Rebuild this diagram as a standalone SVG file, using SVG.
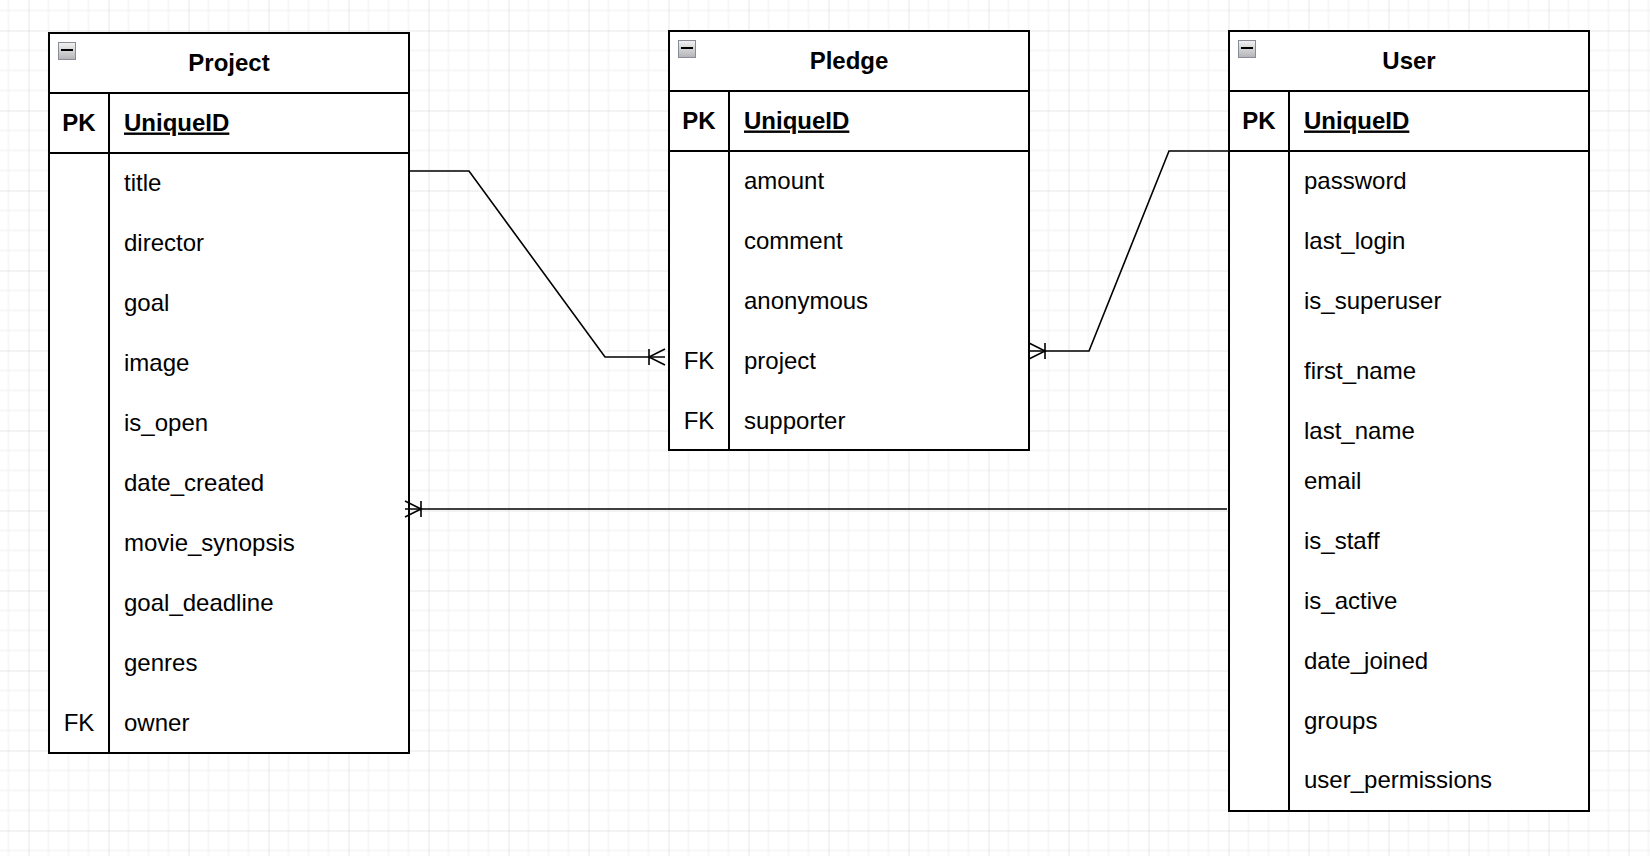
<svg xmlns="http://www.w3.org/2000/svg" width="1650" height="856" viewBox="0 0 1650 856">
<style>
.box{fill:#ffffff;stroke:#000000;stroke-width:2}
.ln{stroke:#000000;stroke-width:2;fill:none}
.conn{stroke:#000000;stroke-width:1.6;fill:none}
.t{font-family:"Liberation Sans",Arial,Helvetica,sans-serif;font-size:24px;fill:#000000}
.b{font-weight:bold}
.c{text-anchor:middle}
.u{text-decoration:underline}
.ico{fill:url(#icoGrad);stroke:#878c96;stroke-width:1}
.bar{stroke:#000000;stroke-width:2}
</style>
<defs>
<pattern id="grid" x="28.5" y="30.5" width="80" height="80" patternUnits="userSpaceOnUse">
<path d="M20,0V80M40,0V80M60,0V80M0,20H80M0,40H80M0,60H80" stroke="#efefef" stroke-width="1" fill="none"/>
<path d="M0,0V80M0,0H80" stroke="#cfcfcf" stroke-width="1" fill="none"/>
</pattern>
<linearGradient id="icoGrad" x1="0" y1="0" x2="0" y2="1">
<stop offset="0" stop-color="#f2f2f2"/>
<stop offset="1" stop-color="#b4b4b8"/>
</linearGradient>
<marker id="crow" markerUnits="userSpaceOnUse" markerWidth="24" markerHeight="24" viewBox="-20 -10 24 20" refX="0" refY="0" orient="auto" overflow="visible">
<path d="M0,-8L-16,0L0,8M-16,-8V8" stroke="#000000" stroke-width="1.6" fill="none"/>
</marker>
</defs>
<rect x="0" y="0" width="1650" height="856" fill="#ffffff"/>
<rect x="0" y="0" width="1650" height="856" fill="url(#grid)"/>

<g id="project">
<rect class="box" x="49" y="33" width="360" height="720"/>
<path class="ln" d="M49,93H409M49,153H409M109,93V753"/>
<rect class="ico" x="58.5" y="42.5" width="17" height="17"/>
<path class="bar" d="M61,50H73"/>
<text class="t b c" x="229" y="70.5">Project</text>
<text class="t b c" x="79" y="130.5">PK</text>
<text class="t b u" x="124" y="130.5">UniqueID</text>
<text class="t" x="124" y="190.5">title</text>
<text class="t" x="124" y="250.5">director</text>
<text class="t" x="124" y="310.5">goal</text>
<text class="t" x="124" y="370.5">image</text>
<text class="t" x="124" y="430.5">is_open</text>
<text class="t" x="124" y="490.5">date_created</text>
<text class="t" x="124" y="550.5">movie_synopsis</text>
<text class="t" x="124" y="610.5">goal_deadline</text>
<text class="t" x="124" y="670.5">genres</text>
<text class="t c" x="79" y="730.5">FK</text>
<text class="t" x="124" y="730.5">owner</text>
</g>

<g id="pledge">
<rect class="box" x="669" y="31" width="360" height="419"/>
<path class="ln" d="M669,91H1029M669,151H1029M729,91V450"/>
<rect class="ico" x="678.5" y="40.5" width="17" height="17"/>
<path class="bar" d="M681,48H693"/>
<text class="t b c" x="849" y="68.5">Pledge</text>
<text class="t b c" x="699" y="128.5">PK</text>
<text class="t b u" x="744" y="128.5">UniqueID</text>
<text class="t" x="744" y="188.5">amount</text>
<text class="t" x="744" y="248.5">comment</text>
<text class="t" x="744" y="308.5">anonymous</text>
<text class="t c" x="699" y="368.5">FK</text>
<text class="t" x="744" y="368.5">project</text>
<text class="t c" x="699" y="428.5">FK</text>
<text class="t" x="744" y="428.5">supporter</text>
</g>

<g id="user">
<rect class="box" x="1229" y="31" width="360" height="780"/>
<path class="ln" d="M1229,91H1589M1229,151H1589M1289,91V811"/>
<rect class="ico" x="1238.5" y="40.5" width="17" height="17"/>
<path class="bar" d="M1241,48H1253"/>
<text class="t b c" x="1409" y="68.5">User</text>
<text class="t b c" x="1259" y="128.5">PK</text>
<text class="t b u" x="1304" y="128.5">UniqueID</text>
<text class="t" x="1304" y="188.5">password</text>
<text class="t" x="1304" y="249">last_login</text>
<text class="t" x="1304" y="309">is_superuser</text>
<text class="t" x="1304" y="379">first_name</text>
<text class="t" x="1304" y="439">last_name</text>
<text class="t" x="1304" y="489">email</text>
<text class="t" x="1304" y="549">is_staff</text>
<text class="t" x="1304" y="609">is_active</text>
<text class="t" x="1304" y="669">date_joined</text>
<text class="t" x="1304" y="729">groups</text>
<text class="t" x="1304" y="788">user_permissions</text>
</g>

<g id="connectors">
<path class="conn" d="M409,171H469L605,357H665" marker-end="url(#crow)"/>
<path class="conn" d="M1229,151H1169L1089,351H1029" marker-end="url(#crow)"/>
<path class="conn" d="M1227,509H405" marker-end="url(#crow)"/>
</g>
</svg>
